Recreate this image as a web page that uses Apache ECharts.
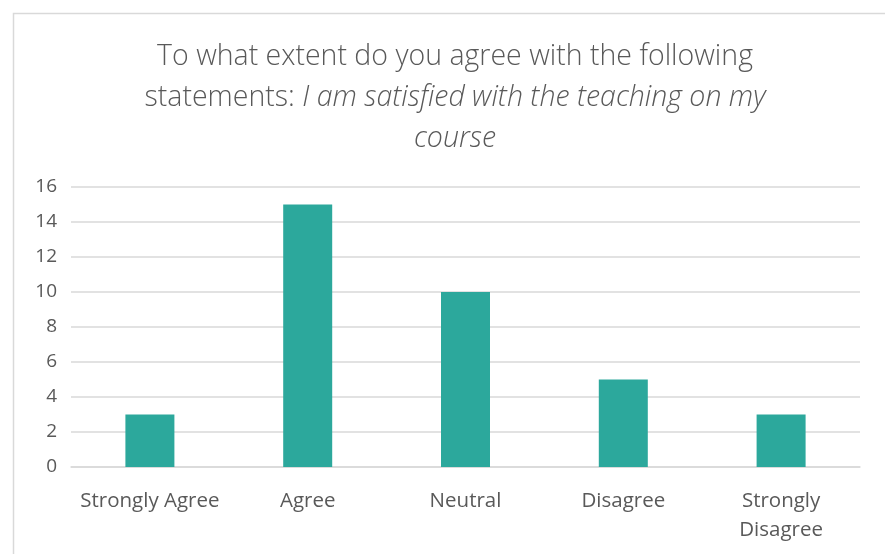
<!DOCTYPE html>
<html><head><meta charset="utf-8">
<script src="https://cdn.jsdelivr.net/npm/echarts@6/dist/echarts.min.js"></script>
<style>html,body{margin:0;padding:0;background:#fff}#c{width:885px;height:554px}</style>
</head><body><div id="c"></div>
<script>
const categories = ['Strongly Agree', 'Agree', 'Neutral', 'Disagree', 'Strongly\nDisagree'];
const values = [3, 15, 10, 5, 3];
const yTicks = [0, 2, 4, 6, 8, 10, 12, 14, 16];

const chart = echarts.init(document.getElementById('c'));
chart.setOption({
  animation: false,
  backgroundColor: '#fff',
  graphic: [{
    type: 'rect', left: 11, top: 11,
    shape: { width: 900, height: 600 },
    style: { fill: 'none', stroke: '#d9d9d9', lineWidth: 1.5 }
  }],
  title: {
    text: 'To what extent do you agree with the following\nstatements: {i|I am satisfied with the teaching on my}\n{i|course}',
    left: 450, top: 31, textAlign: 'center',
    textStyle: {
      fontFamily: 'Open Sans', fontWeight: 300, fontSize: 28.5, color: '#595959', lineHeight: 41,
      rich: { i: { fontFamily: 'Open Sans', fontWeight: 300, fontStyle: 'italic', fontSize: 28.5, color: '#595959', lineHeight: 41 } }
    }
  },
  grid: { left: 71, right: 25, top: 187, bottom: 87, containLabel: false },
  xAxis: {
    type: 'category', data: categories,
    axisLine: { show: true, lineStyle: { color: '#d9d9d9', width: 1.5 } },
    axisTick: { show: false },
    axisLabel: { fontFamily: 'Open Sans', fontSize: 20.5, color: '#595959', margin: 20, lineHeight: 29, interval: 0 }
  },
  yAxis: {
    type: 'value', min: yTicks[0], max: yTicks[yTicks.length - 1], interval: 2,
    axisLine: { show: false }, axisTick: { show: false },
    splitLine: { lineStyle: { color: '#d9d9d9', width: 1.5 } },
    axisLabel: { fontFamily: 'Open Sans', fontSize: 19, color: '#595959', margin: 14 }
  },
  series: [{
    type: 'bar', data: values, barWidth: 49,
    itemStyle: { color: '#2ca89c' }
  }]
});
</script></body></html>
